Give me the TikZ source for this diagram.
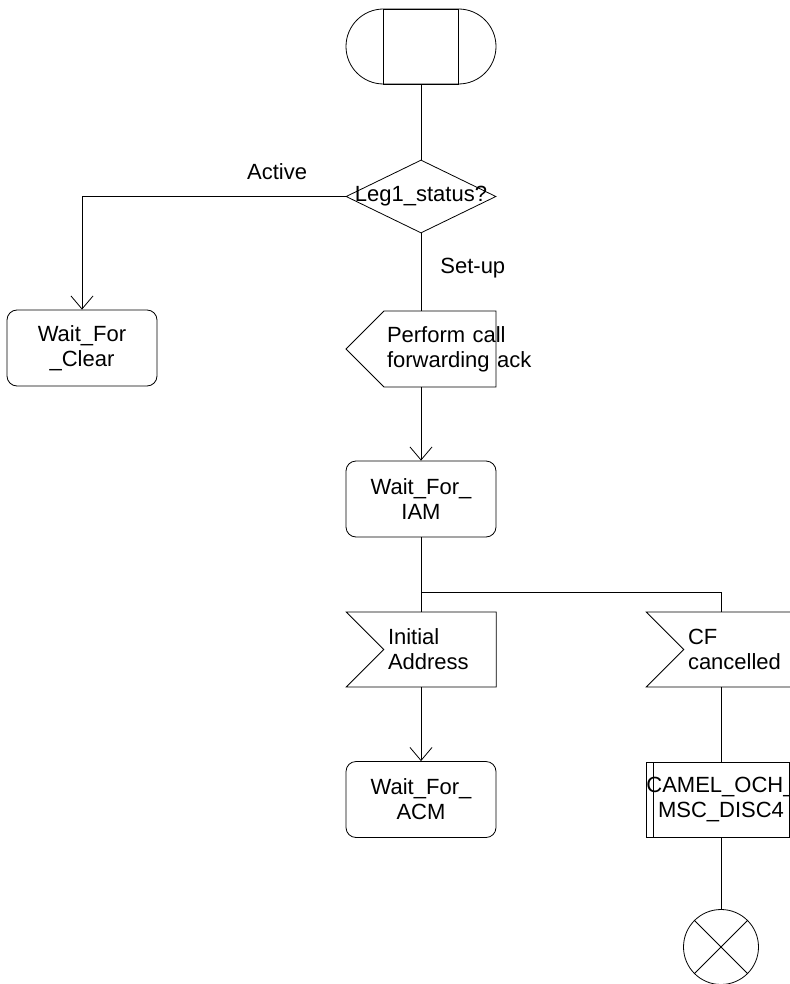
\documentclass[tikz,border=0pt]{standalone}
\usepackage{fontspec}
\setmainfont{Liberation Sans}
\usetikzlibrary{shapes.geometric, shapes.misc, shapes.symbols, arrows.meta, positioning}

\begin{document}
\begin{tikzpicture}[
        x=1pt, y=-1pt,
        base/.style={
            draw=black,
            line width=0.8pt,
            minimum width=150pt,
            minimum height=76pt,
            inner sep=0pt,
            font=\fontsize{22pt}{25pt}\selectfont
        },
        procstart/.style={
            base,
            rounded rectangle,
            minimum height=75pt
        },
        state/.style={
            base,
            rectangle,
            rounded corners=10pt,
            align=center
        },
        decision/.style={
            base,
            diamond,
            minimum height=73pt
        },
        sendsig/.style={
            base,
            signal,
            signal to=west,
            signal from=nowhere,
            text width=106pt,
            align=left
        },
        recvsig/.style={
            base,
            signal,
            signal from=west,
            signal to=nowhere,
            minimum height=75pt,
            text width=104pt,
            align=left
        },
        proccall/.style={
            base,
            rectangle,
            minimum height=75pt,
            align=center,
            path picture={
                \draw ([xshift=7pt]path picture bounding box.north west) -- ([xshift=7pt]path picture bounding box.south west);
                \draw ([xshift=-7pt]path picture bounding box.north east) -- ([xshift=-7pt]path picture bounding box.south east);
            }
        },
        stopsym/.style={
            base,
            circle,
            minimum size=75pt,
            path picture={
                \draw (path picture bounding box.north west) -- (path picture bounding box.south east);
                \draw (path picture bounding box.south west) -- (path picture bounding box.north east);
            }
        },
        cond/.style={
            font=\fontsize{22pt}{25pt}\selectfont,
            inner sep=0pt
        },
        flow/.style={
            draw=black,
            line width=0.8pt
        },
        arrowflow/.style={
            flow,
            -{Straight Barb[length=13pt, width=22pt]}
        }
    ]
        \useasboundingbox (0,0) rectangle (789,984);

        % Procedure start and decision
        \node[procstart] (start) at (421, 46.5) {};
        \node[base, rectangle, minimum width=75pt, minimum height=75pt] (startin) at (start) {};
        \node[decision] (dec) at (421, 196.5) {\makebox[0pt]{Leg1\_status?}};

        % States and signals (signal nodes sit off centre, the pointer hangs out to the west)
        \node[state] (clear) at (82, 348) {Wait\_For\\\_Clear};
        \node[sendsig] (ack) at (440, 349) {Perform~call\\forwarding~ack};
        \node[state] (iam) at (421, 499) {Wait\_For\_\\IAM};
        \node[recvsig] (ia) at (440, 649.5) {Initial\\Address};
        \node[recvsig] (cfc) at (740, 649.5) {CF\\cancelled};
        \node[state] (acm) at (421, 799.5) {Wait\_For\_\\ACM};
        \node[proccall] (proc) at (721, 799.5) {CAMEL\_OCH\_\\MSC\_DISC4};
        \node[stopsym] (stop) at (721, 947) {};
        \coordinate (fork) at (421, 592);

        % Connections
        \draw[flow] (start.south) -- (dec.north);
        \draw[arrowflow] (dec.west) -| node[cond, pos=0.13, above=16pt] {Active} (clear.north);
        \draw[flow] (dec.south) -- node[cond, pos=0.45, right=19pt] {Set-up} (dec.south |- ack.north);
        \draw[arrowflow] (ack.south -| iam.north) -- (iam.north);
        \draw[flow] (iam.south) -- (iam.south |- ia.north);
        \draw[flow] (fork) -| (proc.north |- cfc.north);
        \draw[arrowflow] (ia.south -| acm.north) -- (acm.north);
        \draw[flow] (cfc.south -| proc.north) -- (proc.north);
        \draw[flow] (proc.south) -- (stop.north);

    \end{tikzpicture}
\end{document}
